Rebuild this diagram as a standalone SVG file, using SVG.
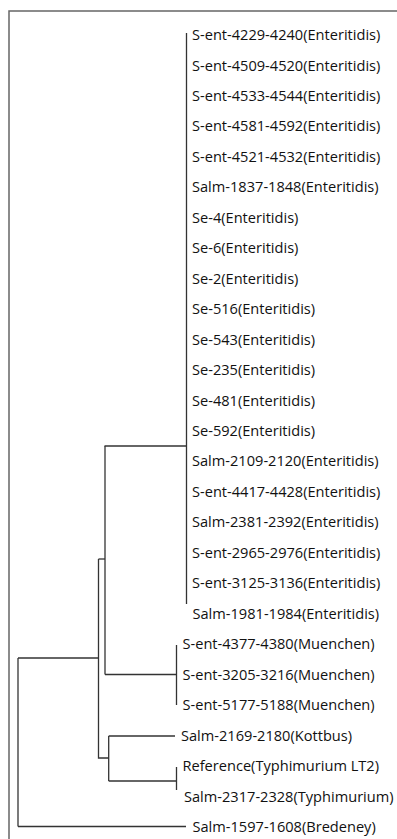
<svg xmlns="http://www.w3.org/2000/svg" width="397" height="839" viewBox="0 0 397 839">
<style>
.frame{fill:none;stroke:#666;stroke-width:1.5}
.edge{fill:none;stroke:#333;stroke-width:1.3}
.lbl{font-family:"Open Sans","Noto Sans","DejaVu Sans",sans-serif;font-size:14.6px;fill:#111}
</style>
<rect width="397" height="839" fill="#fff"/>
<path class="frame" d="M9,839 V11 H397"/>
<g id="connectors">
<path class="edge" d="M186.5,33 V604"/>
<path class="edge" d="M104.5,446 H186.5"/>
<path class="edge" d="M176.5,645 V705"/>
<path class="edge" d="M105,674.5 H176.5"/>
<path class="edge" d="M105,446 V674.5"/>
<path class="edge" d="M98.5,559 H105"/>
<path class="edge" d="M108.7,736 V781"/>
<path class="edge" d="M108.7,736 H175"/>
<path class="edge" d="M108.7,781 H176.5"/>
<path class="edge" d="M176.5,767 V790"/>
<path class="edge" d="M98.5,559 V758 H108.7"/>
<path class="edge" d="M18,658 V826.5"/>
<path class="edge" d="M18,658 H98.5"/>
<path class="edge" d="M18,826.5 H186"/>
</g>
<g id="n0"><text class="lbl" x="192" y="40">S-ent-4229-4240(Enteritidis)</text></g>
<g id="n1"><text class="lbl" x="192" y="70.5">S-ent-4509-4520(Enteritidis)</text></g>
<g id="n2"><text class="lbl" x="192" y="101">S-ent-4533-4544(Enteritidis)</text></g>
<g id="n3"><text class="lbl" x="192" y="131.4">S-ent-4581-4592(Enteritidis)</text></g>
<g id="n4"><text class="lbl" x="192" y="161.8">S-ent-4521-4532(Enteritidis)</text></g>
<g id="n5"><text class="lbl" x="192" y="192.3">Salm-1837-1848(Enteritidis)</text></g>
<g id="n6"><text class="lbl" x="192" y="222.8">Se-4(Enteritidis)</text></g>
<g id="n7"><text class="lbl" x="192" y="253.2">Se-6(Enteritidis)</text></g>
<g id="n8"><text class="lbl" x="192" y="283.7">Se-2(Enteritidis)</text></g>
<g id="n9"><text class="lbl" x="192" y="314.1">Se-516(Enteritidis)</text></g>
<g id="n10"><text class="lbl" x="192" y="344.6">Se-543(Enteritidis)</text></g>
<g id="n11"><text class="lbl" x="192" y="375">Se-235(Enteritidis)</text></g>
<g id="n12"><text class="lbl" x="192" y="405.5">Se-481(Enteritidis)</text></g>
<g id="n13"><text class="lbl" x="192" y="436">Se-592(Enteritidis)</text></g>
<g id="n14"><text class="lbl" x="192" y="466.4">Salm-2109-2120(Enteritidis)</text></g>
<g id="n15"><text class="lbl" x="192" y="496.9">S-ent-4417-4428(Enteritidis)</text></g>
<g id="n16"><text class="lbl" x="192" y="527.3">Salm-2381-2392(Enteritidis)</text></g>
<g id="n17"><text class="lbl" x="192" y="557.8">S-ent-2965-2976(Enteritidis)</text></g>
<g id="n18"><text class="lbl" x="192" y="588.2">S-ent-3125-3136(Enteritidis)</text></g>
<g id="n19"><text class="lbl" x="192.5" y="618.7">Salm-1981-1984(Enteritidis)</text></g>
<g id="n20"><text class="lbl" x="182.5" y="649.2">S-ent-4377-4380(Muenchen)</text></g>
<g id="n21"><text class="lbl" x="182.5" y="679.6">S-ent-3205-3216(Muenchen)</text></g>
<g id="n22"><text class="lbl" x="182.5" y="710.1">S-ent-5177-5188(Muenchen)</text></g>
<g id="n23"><text class="lbl" x="181" y="740.5">Salm-2169-2180(Kottbus)</text></g>
<g id="n24"><text class="lbl" x="182.5" y="771">Reference(Typhimurium LT2)</text></g>
<g id="n25"><text class="lbl" x="184" y="801.5">Salm-2317-2328(Typhimurium)</text></g>
<g id="n26"><text class="lbl" x="192.5" y="832">Salm-1597-1608(Bredeney)</text></g>
</svg>
